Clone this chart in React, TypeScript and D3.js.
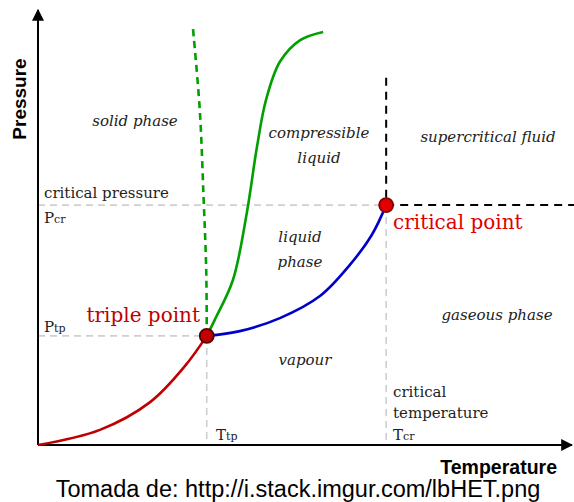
import React from 'react';
import * as d3 from 'd3';

// curves in diagram units: T 0..100 left to right, P 0..100 bottom to top
const sublimationT = [0, 11.6, 21.0, 27.5, 31.6];
const sublimationP = [0, 3.5, 9.9, 18.2, 25.2];

const vaporT = [31.6, 37.8, 45.3, 52.8, 58.4, 62.5, 65.2];
const vaporP = [25.2, 26.3, 29.3, 34.4, 41.6, 48.5, 55.4];

const meltingT = [31.6, 33.1, 36.5, 39.1, 41.0, 42.7, 45.3, 49.1, 53.4];
const meltingP = [25.2, 28.9, 38.1, 53.6, 68.8, 79.7, 88.5, 93.5, 95.4];

const anomalousT = [31.6, 31.5, 31.0, 30.3, 29.0];
const anomalousP = [25.2, 40.4, 57.3, 77.3, 96.5];

const triplePoint = [31.6, 25.2];
const criticalPoint = [65.2, 55.4];
const supercriticalTop = 84.8;

const W = 574;
const H = 502;

const zip = (xs: number[], ys: number[]) => xs.map((x, i) => [x, ys[i]] as [number, number]);

export default function App() {
  const x = d3.scaleLinear().domain([0, 100]).range([38, 572]);
  const y = d3.scaleLinear().domain([0, 100]).range([445, 12]);

  const line = d3
    .line<[number, number]>()
    .x(d => x(d[0]))
    .y(d => y(d[1]))
    .curve(d3.curveCatmullRom.alpha(0.5));

  const tx = x(triplePoint[0]);
  const ty = y(triplePoint[1]);
  const cx = x(criticalPoint[0]);
  const cy = y(criticalPoint[1]);
  const x0 = x(0);
  const y0 = y(0);

  const serif = '"DejaVu Serif", serif';
  const sans = '"Liberation Sans", Arial, sans-serif';
  const grey = '#cfcfcf';

  return (
    <svg width={W} height={H} style={{ position: 'absolute', left: 0, top: 0, background: '#fff' }}>
      <defs>
        <marker id="arrow" viewBox="0 0 10 10" refX="9" refY="5" markerWidth="6" markerHeight="6" orient="auto">
          <path d="M0,0 L10,5 L0,10 z" fill="#000" />
        </marker>
      </defs>

      {/* grey guide lines */}
      <g stroke={grey} strokeWidth={1.6} strokeDasharray="7,5" fill="none">
        <line x1={x0} y1={cy} x2={cx} y2={cy} />
        <line x1={x0} y1={ty} x2={tx} y2={ty} />
        <line x1={tx} y1={ty} x2={tx} y2={y0} />
        <line x1={cx} y1={cy} x2={cx} y2={y0} />
      </g>

      {/* supercritical boundaries */}
      <g stroke="#000" strokeWidth={2} strokeDasharray="8,6" fill="none">
        <line x1={cx} y1={y(supercriticalTop)} x2={cx} y2={cy} />
        <line x1={cx} y1={cy} x2={W} y2={cy} />
      </g>

      {/* axes */}
      <line x1={x0} y1={y0} x2={x0} y2={10} stroke="#000" strokeWidth={2} markerEnd="url(#arrow)" />
      <line x1={x0} y1={y0} x2={572} y2={y0} stroke="#000" strokeWidth={2} markerEnd="url(#arrow)" />

      {/* phase curves */}
      <path d={line(zip(sublimationT, sublimationP)) ?? ''} fill="none" stroke="#c00000" strokeWidth={2.6} />
      <path d={line(zip(vaporT, vaporP)) ?? ''} fill="none" stroke="#0000c8" strokeWidth={2.6} />
      <path d={line(zip(meltingT, meltingP)) ?? ''} fill="none" stroke="#00a000" strokeWidth={2.6} />
      <path
        d={line(zip(anomalousT, anomalousP)) ?? ''}
        fill="none"
        stroke="#00a000"
        strokeWidth={2.6}
        strokeDasharray="7,5"
      />

      <circle cx={tx} cy={ty} r={7} fill="#c00000" stroke="#5a0000" strokeWidth={1.8} />
      <circle cx={cx} cy={cy} r={7} fill="#e00000" stroke="#8a0000" strokeWidth={1.8} />

      {/* region labels */}
      <g fontFamily={serif} fontStyle="italic" fontSize={15} fill="#222" textAnchor="middle">
        <text x={135} y={126}>solid phase</text>
        <text x={319} y={138}>compressible</text>
        <text x={319} y={163}>liquid</text>
        <text x={488} y={142}>supercritical fluid</text>
        <text x={300} y={242}>liquid</text>
        <text x={300} y={267}>phase</text>
        <text x={497} y={320}>gaseous phase</text>
        <text x={305} y={365}>vapour</text>
      </g>

      {/* axis value labels */}
      <g fontFamily={serif} fontSize={15} fill="#222">
        <text x={44} y={198}>critical pressure</text>
        <text x={44} y={223}>
          P<tspan fontSize={11}>cr</tspan>
        </text>
        <text x={44} y={332}>
          P<tspan fontSize={11}>tp</tspan>
        </text>
        <text x={216} y={440}>
          T<tspan fontSize={11}>tp</tspan>
        </text>
        <text x={393} y={397}>critical</text>
        <text x={393} y={418}>temperature</text>
        <text x={393} y={440}>
          T<tspan fontSize={11}>cr</tspan>
        </text>
      </g>

      <text x={200} y={322} fontFamily={serif} fontSize={20} fill="#c00000" textAnchor="end">
        triple point
      </text>
      <text x={393} y={229} fontFamily={serif} fontSize={20} fill="#e00000">
        critical point
      </text>

      {/* axis titles */}
      <text
        transform="translate(26,99) rotate(-90)"
        fontFamily={sans}
        fontWeight="bold"
        fontSize={19}
        textAnchor="middle"
      >
        Pressure
      </text>
      <text x={557} y={474} fontFamily={sans} fontWeight="bold" fontSize={19.5} textAnchor="end">
        Temperature
      </text>

      <text x={298} y={497} fontFamily={sans} fontSize={23.5} textAnchor="middle">
        Tomada de: http://i.stack.imgur.com/lbHET.png
      </text>
    </svg>
  );
}
